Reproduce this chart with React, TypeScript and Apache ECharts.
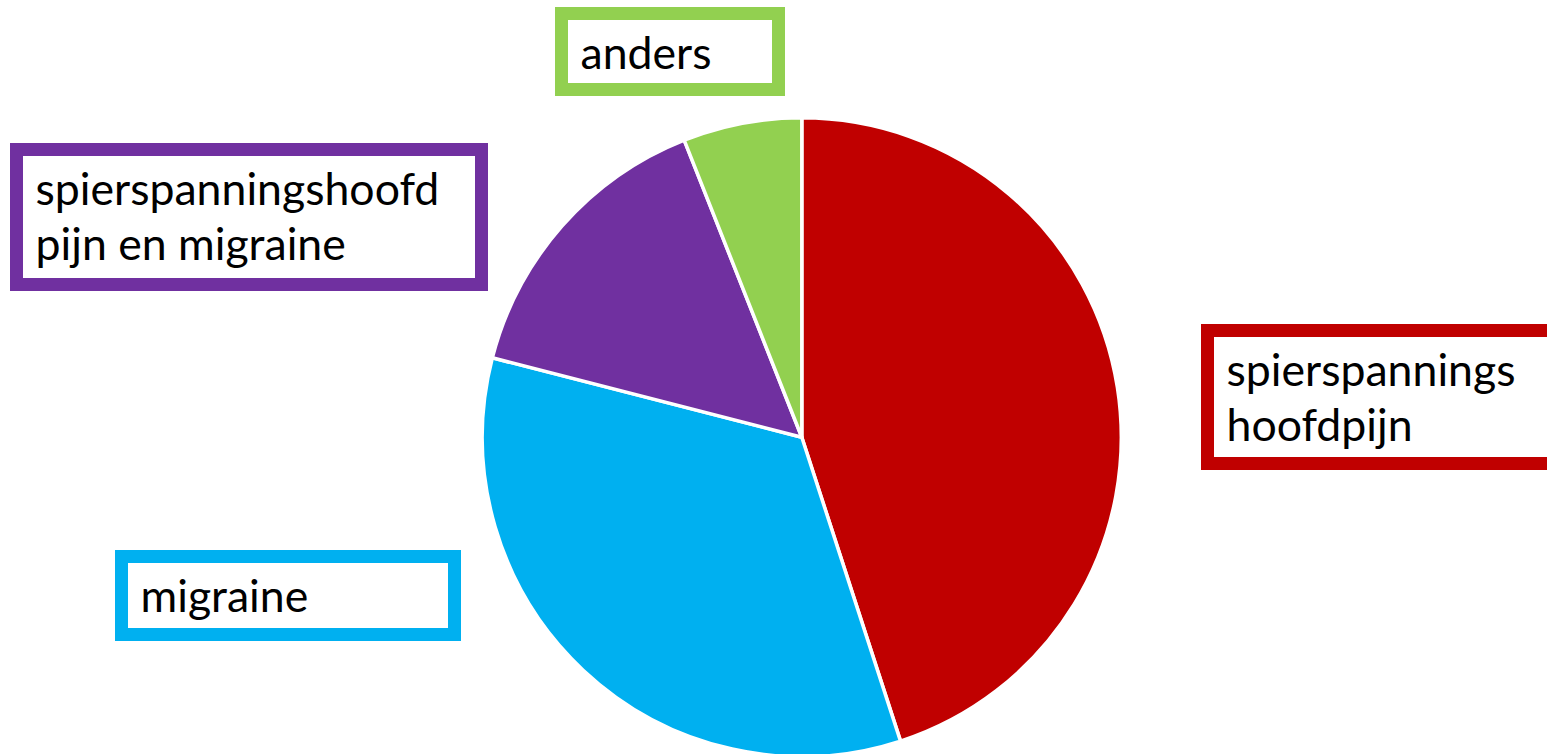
import React, { useEffect, useRef } from "react";
import * as echarts from "echarts";

// ---- data ----
const categories: string[] = [
  "spierspannings\nhoofdpijn",
  "migraine",
  "spierspanningshoofd\npijn en migraine",
  "anders",
];
const values: number[] = [45, 34, 15, 6];
const colors: string[] = ["#C00000", "#00B0F0", "#7030A0", "#92D050"];

// ---- label box layout (inner white rectangle: x, y, width, height) ----
const labelBoxes: number[][] = [
  [1214, 337, 400, 120],
  [128, 563, 320, 65],
  [23, 156, 452, 122],
  [568, 20, 204, 63],
];

const FONT = "Lato, 'Open Sans', sans-serif";
const FONT_SIZE = 44.6;
const LINE_H = 55;
const PAD_L = 12.5;
const PAD_T = 3.5;
const BORDER = 13;

export default function App() {
  const ref = useRef<HTMLDivElement>(null);

  useEffect(() => {
    if (!ref.current) return;
    const chart = echarts.init(ref.current, undefined, { renderer: "svg" });

    const data = categories.map((name, i) => {
      const [, , w, h] = labelBoxes[i];
      const lines = name.split("\n").length;
      const contentH = lines * LINE_H;
      const padB = Math.max(0, h - PAD_T - contentH);
      const contentW = w - PAD_L - 4;
      return {
        name,
        value: values[i],
        itemStyle: { color: colors[i] },
        label: {
          width: contentW,
          height: contentH,
          padding: [PAD_T, 4, padB, PAD_L],
          borderColor: colors[i],
        },
      };
    });

    chart.setOption({
      animation: false,
      backgroundColor: "#ffffff",
      series: [
        {
          type: "pie",
          center: [801.8, 437.25],
          radius: 319.5,
          startAngle: 90,
          clockwise: true,
          avoidLabelOverlap: false,
          silent: true,
          itemStyle: { borderColor: "#ffffff", borderWidth: 3.5 },
          emphasis: { disabled: true },
          labelLine: { show: false },
          label: {
            show: true,
            position: "outside",
            formatter: "{b}",
            color: "#000000",
            fontFamily: FONT,
            fontSize: FONT_SIZE,
            lineHeight: LINE_H,
            backgroundColor: "#ffffff",
            borderWidth: BORDER,
            borderRadius: 0,
            align: "left",
            verticalAlign: "top",
          },
          labelLayout: (params: any) => {
            const b = labelBoxes[params.dataIndex];
            return { x: b[0], y: b[1], align: "left", verticalAlign: "top" };
          },
          data,
        },
      ],
    });

    return () => chart.dispose();
  }, []);

  return (
    <div
      ref={ref}
      style={{ position: "fixed", left: 0, top: 0, width: 1547, height: 754 }}
    />
  );
}
